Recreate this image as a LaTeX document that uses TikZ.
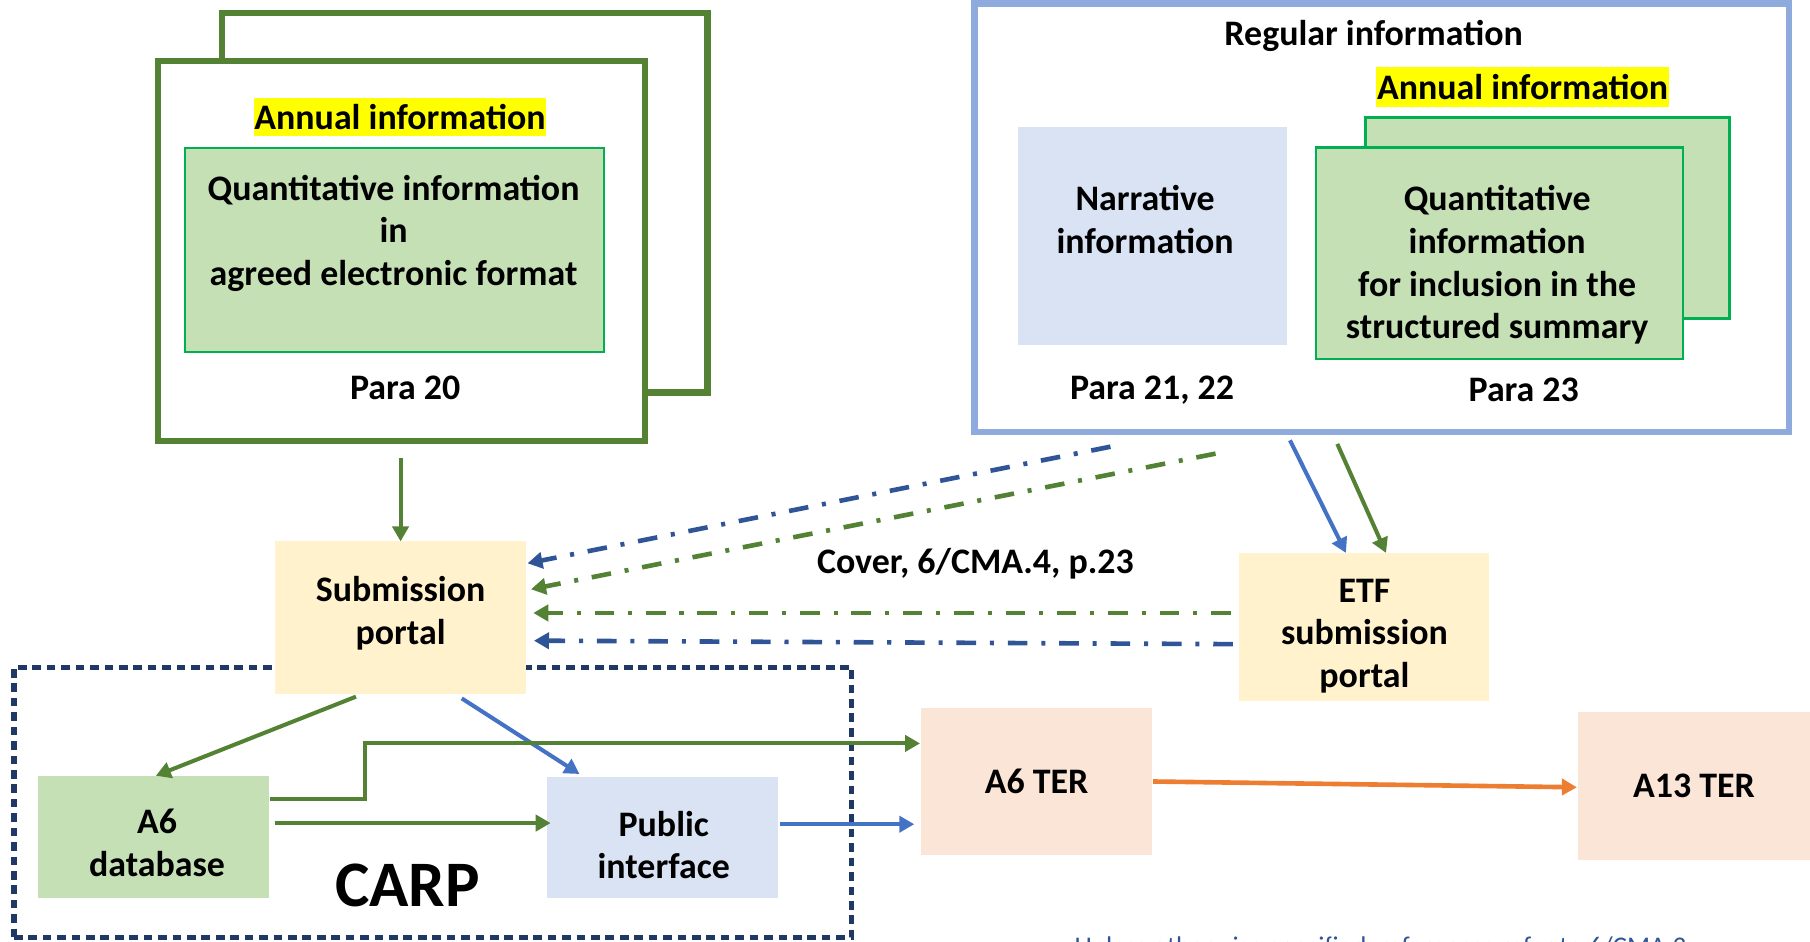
\documentclass[tikz,border=0pt]{standalone}
\usepackage{fontspec}
\setmainfont{Carlito}
\usetikzlibrary{arrows.meta,calc}
\definecolor{dgreen}{HTML}{548235}
\definecolor{lgreen}{HTML}{C5E0B4}
\definecolor{bgreen}{HTML}{00B050}
\definecolor{fblue}{HTML}{8FAADC}
\definecolor{lblue}{HTML}{DAE3F3}
\definecolor{lyellow}{HTML}{FFF2CC}
\definecolor{salmon}{HTML}{FBE5D6}
\definecolor{dblue}{HTML}{2F5597}
\definecolor{mblue}{HTML}{4472C4}
\definecolor{orng}{HTML}{ED7D31}
\definecolor{navy}{HTML}{203864}
\definecolor{hlyellow}{HTML}{FFFF00}
\tikzset{
  every node/.style={inner sep=0pt, outer sep=0pt},
  txt/.style={font=\fontsize{17.7}{21}\selectfont\bfseries, align=center, text=black},
  frame/.style={draw=dgreen, line width=0.11cm},
  rframe/.style={draw=fblue, line width=0.11cm},
  hl/.style={txt, fill=hlyellow},
  qbox/.style={draw=bgreen, fill=lgreen},
  carpbox/.style={draw=navy, line width=0.09cm, dash pattern=on 0.15cm off 0.1cm},
  arr/.style={-{Triangle[length=0.26cm,width=0.28cm]}},
  ddash/.style={line width=0.08cm, dash pattern=on 0.34cm off 0.24cm on 0.07cm off 0.24cm},
  solidln/.style={line width=0.07cm},
}
\begin{document}
\begin{tikzpicture}[x=0.02cm,y=-0.02cm]
\useasboundingbox (0,0) rectangle (1568,816);
\clip (0,0) rectangle (1568,816);

% ---- left group
\node[frame, fill=white, minimum width=8.42cm, minimum height=6.58cm] (back1) at (402.5,175.5) {};
\node[frame, fill=white, minimum width=8.44cm, minimum height=6.58cm] (front1) at (348,217.5) {};
\node[hl, minimum width=5.06cm, minimum height=0.66cm] (ann1) at (346.5,101.5) {Annual information};
\node[qbox, line width=0.03cm, minimum width=7.26cm, minimum height=3.54cm] (quant1) at (341.5,216.5) {};
\node[txt] (quant1t) at (341,202) {Quantitative information\\in\\agreed electronic format};
\node[txt] (para20) at (351,336) {Para 20};

% ---- right group
\node[rframe, fill=white, minimum width=14.12cm, minimum height=7.42cm] (reg) at (1197,188.5) {};
\node[txt] (regt) at (1190,31) {Regular information};
\node[hl, minimum width=5.08cm, minimum height=0.70cm] (ann2) at (1319,75.5) {Annual information};
\node[fill=lblue, minimum width=4.66cm, minimum height=3.78cm] (narr) at (998.5,204.5) {};
\node[txt] (narrt) at (992,190) {Narrative\\information};
\node[qbox, line width=0.05cm, minimum width=6.30cm, minimum height=3.48cm] (quant2b) at (1340.5,189) {};
\node[qbox, line width=0.05cm, minimum width=6.36cm, minimum height=3.66cm] (quant2) at (1299,219.5) {};
\node[txt] (quant2t) at (1297,229.5) {Quantitative\\information\\for inclusion in the\\structured summary};
\node[txt] (para2122) at (998,338) {Para 21, 22};
\node[txt] (para23) at (1320,338) {Para 23};

% ---- lower part
\node[carpbox, minimum width=14.52cm, minimum height=4.68cm] (carp) at (375,695) {};
\node[txt, fill=lyellow, minimum width=4.36cm, minimum height=2.64cm] (sub) at (347,535) {};
\node[txt] (subt) at (347,531) {Submission\\portal};
\node[txt, fill=lyellow, minimum width=4.34cm, minimum height=2.56cm] (etf) at (1181.5,543) {};
\node[txt] (etft) at (1182,551) {ETF\\submission\\portal};
\node[txt, fill=salmon, minimum width=4.0cm, minimum height=2.56cm] (a6ter) at (898,677) {A6 TER};
\node[txt, fill=salmon, minimum width=4.02cm, minimum height=2.56cm] (a13ter) at (1467.5,681) {A13 TER};
\node[txt, fill=lgreen, minimum width=4.0cm, minimum height=2.12cm] (a6db) at (133,725) {};
\node[txt] (a6dbt) at (136,730) {A6\\database};
\node[txt, fill=lblue, minimum width=4.0cm, minimum height=2.10cm] (pub) at (574,725.5) {};
\node[txt] (pubt) at (575,732) {Public\\interface};
\node[txt, font=\fontsize{32}{38}\selectfont\bfseries] (carpt) at (353,767) {CARP};
\node[txt] (cover) at (845,488) {Cover, 6/CMA.4, p.23};
\node[font=\fontsize{13.3}{15}\selectfont, text=dblue, anchor=base west] (note) at (931,828) {Unless otherwise specified, references refer to 6/CMA.3};

% ---- connectors
\draw[solidln, dgreen, arr] ($(front1.south)+(-1,15)$) -- (sub.north);
\draw[ddash, dblue, arr] ($(reg.south)+(-235,13)$) -- ($(sub.east)+(1,-47)$);
\draw[ddash, dgreen, arr] ($(reg.south)+(-144,19)$) -- ($(sub.east)+(4,-24.5)$);
\draw[ddash, dgreen, arr] ($(etf.west)+(-7,-12)$) -- ($(sub.east)+(6,-4)$);
\draw[ddash, dblue, arr] ($(etf.west)+(-5,15)$) -- ($(sub.east)+(6.6,20)$);
\draw[solidln, mblue, arr] ($(reg.south)+(-79.5,7.5)$) -- ($(etf.north)+(-15.5,0)$);
\draw[solidln, dgreen, arr] ($(reg.south)+(-38.5,10.6)$) -- ($(etf.north)+(19.2,0)$);
\draw[solidln, dgreen, arr] ($(sub.south)+(-38.6,2.5)$) -- ($(a6db.north)+(2,0)$);
\draw[solidln, mblue, arr] ($(sub.south)+(53,4)$) -- ($(pub.north)+(-72,-2.5)$);
\draw[solidln, dgreen, arr] ($(a6db.east)+(1,-33)$) -- ++(82,0) |- ($(a6ter.west)+(-1,-33)$);
\draw[solidln, dgreen, arr] ($(a6db.east)+(5,-12)$) -- ($(pub.west)+(3,-12.5)$);
\draw[solidln, mblue, arr] ($(pub.east)+(2,-11.5)$) -- ($(a6ter.west)+(-6,37)$);
\draw[line width=0.08cm, orng, arr] ($(a6ter.east)+(1,0)$) -- ($(a13ter.west)+(-1,1)$);
\end{tikzpicture}
\end{document}
